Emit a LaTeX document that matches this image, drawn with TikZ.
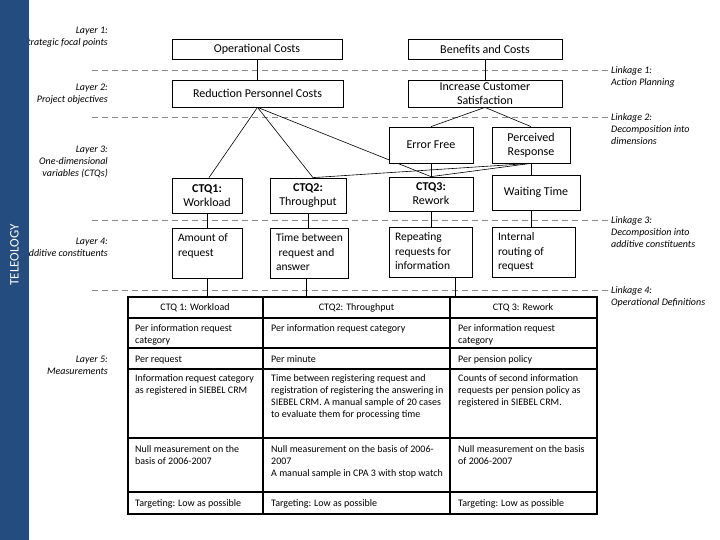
\documentclass[tikz,border=0pt]{standalone}
\usepackage{fontspec}
\setmainfont{Carlito}
\usetikzlibrary{backgrounds,calc}
\definecolor{barblue}{RGB}{36,76,126}
\definecolor{dashgray}{RGB}{140,140,140}
\begin{document}
\begin{tikzpicture}[x=1pt,y=-1pt,
  bx/.style={draw=black,line width=0.75pt,fill=white,inner sep=0pt,align=center,
    font=\fontsize{12}{14}\selectfont},
  bxl/.style={draw=black,line width=0.75pt,fill=white,inner xsep=6pt,inner ysep=6pt,
    font=\fontsize{11.5}{14.5}\selectfont},
  conn/.style={draw=black,line width=0.6pt},
  dashline/.style={draw=dashgray,line width=0.8pt,dash pattern=on 6pt off 4pt},
  lay/.style={font=\fontsize{10}{12}\selectfont\itshape,inner sep=0pt},
  cell/.style={font=\fontsize{10}{12}\selectfont,inner sep=0pt,align=left},
  tline/.style={draw=black,line width=1.6pt}
]
\useasboundingbox (0,0) rectangle (720,540);

% layer labels (left)
\node[lay,anchor=east,align=right] (l1) at (108,37.5) {Layer 1:\\Strategic focal points};
\node[lay,anchor=east,align=right] (l2) at (108,94) {Layer 2:\\Project objectives};
\node[lay,anchor=east,align=right] (l3) at (108,162) {Layer 3:\\One-dimensional\\variables (CTQs)};
\node[lay,anchor=east,align=right] (l4) at (108,247) {Layer 4:\\Additive constituents};
\node[lay,anchor=east,align=right] (l5) at (108,365.5) {Layer 5:\\Measurements};

% blue bar
\fill[barblue] (0,0) rectangle (29,540);
\node[rotate=90,text=white,font=\fontsize{13}{15}\selectfont,inner sep=0pt] (tel) at (14.5,255) {TELEOLOGY};

% linkage labels (right)
\node[lay,anchor=west,align=left] (k1) at (611,77) {Linkage 1:\\Action Planning};
\node[lay,anchor=west,align=left] (k2) at (611,129) {Linkage 2:\\Decomposition into\\dimensions};
\node[lay,anchor=west,align=left] (k3) at (611,232) {Linkage 3:\\Decomposition into\\additive constituents};
\node[lay,anchor=west,align=left] (k4) at (611,297) {Linkage 4:\\Operational Definitions};

% boxes
\node[bx,minimum width=170,minimum height=20] (opc) at (257,49) {Operational Costs};
\node[bx,minimum width=154,minimum height=20] (bac) at (485,49) {Benefits and Costs};
\node[bx,minimum width=171,minimum height=27] (rpc) at (257.5,93.5) {Reduction Personnel Costs};
\node[bx,minimum width=154,minimum height=27] (ics) at (485,93.5) {Increase Customer\\Satisfaction};
\node[bx,minimum width=84,minimum height=36] (ef) at (431,145) {Error Free};
\node[bx,minimum width=78,minimum height=36] (pr) at (531,145) {Perceived\\Response};
\node[bx,minimum width=70,minimum height=35] (ctq1) at (207,195.5) {\textbf{CTQ1:}\\Workload};
\node[bx,minimum width=76,minimum height=35] (ctq2) at (308,195.5) {\textbf{CTQ2:}\\Throughput};
\node[bx,minimum width=84,minimum height=34] (ctq3) at (431,194) {\textbf{CTQ3:}\\Rework};
\node[bx,minimum width=88,minimum height=35] (wt) at (536,192.5) {Waiting Time};

\node[bxl] (amt) at (207,253) {\parbox[c][38pt][t]{58pt}{\raggedright Amount of\\request}};
\node[bxl] (tbw) at (309,253) {\parbox[c][38pt][t]{66pt}{\raggedright\mbox{Time between}\\\mbox{\hspace*{2.5pt}request and}\\answer}};
\node[bxl] (rep) at (430.5,252) {\parbox[c][38pt][t]{71pt}{\raggedright Repeating\\\mbox{requests for}\\information}};
\node[bxl] (irr) at (533.5,252) {\parbox[c][38pt][t]{71pt}{\raggedright Internal\\routing of\\request}};

% table
\node[draw=black,line width=1.6pt,minimum width=469,minimum height=217,inner sep=0pt,anchor=north west] (tbl) at (127,296) {};
\draw[tline] (263,296) -- (263,513);
\draw[tline] (450,296) -- (450,513);
\foreach \yy in {318,348,369,438,492} {\draw[tline] (127,\yy) -- (596,\yy);}

\node[cell,anchor=base] (h1) at (195,310.5) {CTQ 1: Workload};
\node[cell,anchor=base] (h2) at (356.5,310.5) {CTQ2: Throughput};
\node[cell,anchor=base] (h3) at (523,310.5) {CTQ 3: Rework};

\node[cell,anchor=north west] (a1) at (135,324.5) {Per information request\\category};
\node[cell,anchor=north west] (b1) at (271,324.5) {Per information request category};
\node[cell,anchor=north west] (c1) at (458,324.5) {Per information request\\category};

\node[cell,anchor=base west] (a2) at (135,362.5) {Per request};
\node[cell,anchor=base west] (b2) at (271,362.5) {Per minute};
\node[cell,anchor=base west] (c2) at (458,362.5) {Per pension policy};

\node[cell,anchor=north west] (a3) at (135,374.5) {Information request category\\as registered in SIEBEL CRM};
\node[cell,anchor=north west] (b3) at (271,374.5) {Time between registering request and\\registration of registering the answering in\\SIEBEL CRM. A manual sample of 20 cases\\to evaluate them for processing time};
\node[cell,anchor=north west] (c3) at (458,374.5) {Counts of second information\\requests per pension policy as\\registered in SIEBEL CRM.};

\node[cell,anchor=north west] (a4) at (135,445.5) {Null measurement on the\\basis of 2006-2007};
\node[cell,anchor=north west] (b4) at (271,445.5) {Null measurement on the basis of 2006-\\2007\\A manual sample in CPA 3 with stop watch};
\node[cell,anchor=north west] (c4) at (458,445.5) {Null measurement on the basis\\of 2006-2007};

\node[cell,anchor=base west] (a5) at (135,506.5) {Targeting: Low as possible};
\node[cell,anchor=base west] (b5) at (271,506.5) {Targeting: Low as possible};
\node[cell,anchor=base west] (c5) at (458,506.5) {Targeting: Low as possible};

\begin{pgfonlayer}{background}
  \draw[dashline] (92,70) -- (610,70);
  \draw[dashline] (92,117) -- (610,117);
  \draw[dashline] (92,220) -- (610,220);
  \draw[dashline] (92,290) -- (610,290);

  \draw[conn] (opc.south) -- (opc.south |- rpc.north);
  \draw[conn] (bac.south) -- (bac.south |- ics.north);
  \draw[conn] (rpc.south) -- ($(ctq1.north)+(2,0)$);
  \draw[conn] (rpc.south) -- ($(ctq2.north)+(5,0)$);
  \draw[conn] (rpc.south) -- (ctq3.north);
  \draw[conn] (ics.south) -- (ef.north);
  \draw[conn] (ics.south) -- (pr.north);
  \draw[conn] (ef.south) -- (ef.south |- ctq3.north);
  \draw[conn] (pr.south) -- (ctq3.north);
  \draw[conn] (pr.south) -- ($(ctq2.north)+(5,0)$);
  \draw[conn] (pr.south) -- (pr.south |- wt.north);
  \draw[conn] (ctq1.south) -- (ctq1.south |- amt.north);
  \draw[conn] (ctq2.south) -- (ctq2.south |- tbw.north);
  \draw[conn] (ctq3.south) -- (ctq3.south |- rep.north);
  \draw[conn] (pr.south |- wt.south) -- (pr.south |- irr.north);
  \draw[conn] (amt.south) -- (amt.south |- tbl.north);
  \draw[conn] ($(tbw.south)+(-3,0)$) -- ($(tbw.south |- tbl.north)+(-3,0)$);
  \draw[conn] ($(rep.south east)+(-17,0)$) -- ($(rep.south east |- tbl.north)+(-17,0)$);
\end{pgfonlayer}
\end{tikzpicture}
\end{document}
